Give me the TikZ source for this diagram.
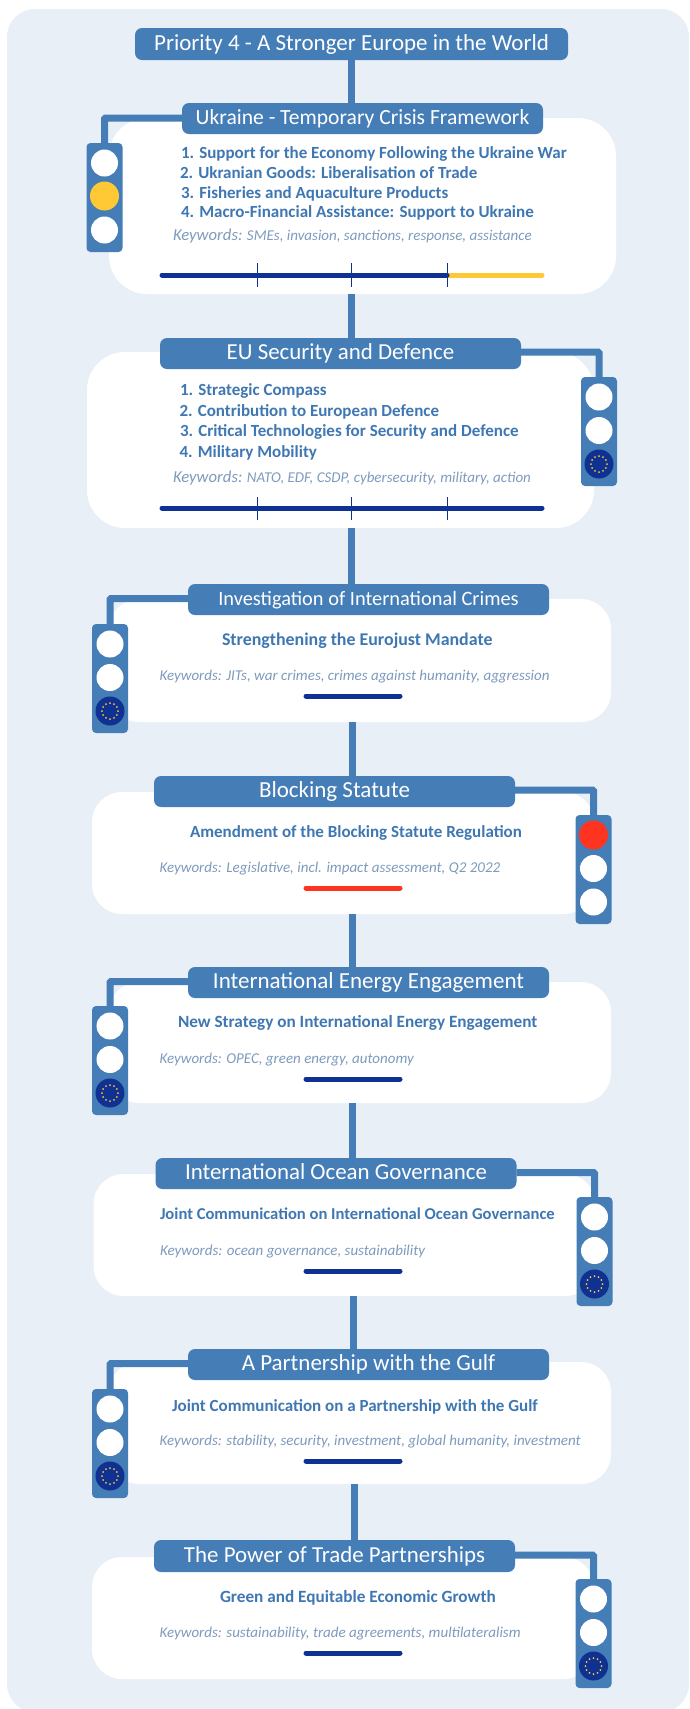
\documentclass[tikz,border=0pt]{standalone}
\usepackage{fontspec}
\setmainfont{Carlito}
\definecolor{panelblue}{HTML}{E8EFF7}
\definecolor{boxblue}{HTML}{457DB7}
\definecolor{navy}{HTML}{0F3191}
\definecolor{goldy}{HTML}{FFC835}
\definecolor{signalred}{HTML}{FF3420}
\definecolor{itemblue}{HTML}{3F77B3}
\definecolor{kwblue}{HTML}{7E9BBD}
\tikzset{
  every node/.style={inner sep=0pt, outer sep=0pt},
  cardbox/.style={fill=white, rounded corners=#1, anchor=north west},
  headbox/.style={fill=boxblue, rounded corners=7pt, text=white, anchor=north west,
     font=\fontsize{#1}{26}\selectfont, align=center, text height=16pt, text depth=4pt},
  lightbody/.style={fill=boxblue, rounded corners=4pt, minimum width=36pt, minimum height=109pt, anchor=north},
  lampoff/.style={circle, fill=white, minimum size=27pt},
  lampyellow/.style={circle, fill=goldy, minimum size=29pt},
  lampred/.style={circle, fill=signalred, minimum size=29pt},
  lampeu/.style={circle, fill=navy, minimum size=29pt},
  itemtext/.style={text=itemblue, anchor=base west, font=\fontsize{#1}{20}\selectfont\bfseries},
  itemtext/.default=17,
  kwtext/.style={text=kwblue, anchor=base west, font=\fontsize{15}{18}\selectfont\itshape},
  link/.style={draw=boxblue, line width=7pt},
  elbow/.style={draw=boxblue, line width=7pt, rounded corners=1pt},
  barline/.style={line width=5pt, line cap=round},
  tickline/.style={draw=navy, line width=1pt},
}
\newcommand{\tlight}[5]{% name, cx, top, first lamp, third lamp
  \node[lightbody] (#1) at (#2,#3) {};
  \node[#4] (#1a) at (#2,#3+20) {};
  \node[lampoff] (#1b) at (#2,#3+53.5) {};
  \node[#5] (#1c) at (#2,#3+87) {};
}
\newcommand{\eustars}[1]{\foreach \a in {0,30,...,330}{\fill[goldy] (#1.center) ++(\a:8) circle (1);}}
\newcommand{\bigkw}[1]{{\fontsize{16.7}{18}\selectfont #1}}
\begin{document}
\begin{tikzpicture}[x=1pt,y=-1pt]
\useasboundingbox (0,0) rectangle (689,1709);
\fill[white] (0,0) rectangle (689,1709);
\fill[panelblue, rounded corners=28pt] (7,9) rectangle (689,1712);

\coordinate (s1) at (351.5,0);
\coordinate (s2) at (352.5,0);
\coordinate (s3) at (353.5,0);
\coordinate (s4) at (354,0);

% cards
\node[cardbox=38pt, minimum width=507pt, minimum height=176pt] (cUkr) at (109,118) {};
\node[cardbox=38pt, minimum width=507pt, minimum height=176pt] (cEU) at (87,352) {};
\node[cardbox=30pt, minimum width=502pt, minimum height=123pt] (cInv) at (109,599) {};
\node[cardbox=30pt, minimum width=502pt, minimum height=122pt] (cBlo) at (92,792) {};
\node[cardbox=30pt, minimum width=502pt, minimum height=121pt] (cEne) at (109,982) {};
\node[cardbox=30pt, minimum width=502pt, minimum height=122pt] (cOce) at (93.5,1174) {};
\node[cardbox=30pt, minimum width=502pt, minimum height=122pt] (cGul) at (109,1362) {};
\node[cardbox=30pt, minimum width=502pt, minimum height=122pt] (cTra) at (92,1557) {};

% headers
\node[headbox=23, minimum width=433pt, minimum height=32pt] (title) at (135,28) {Priority 4 - A Stronger Europe in the World};
\node[headbox=21.6, minimum width=361pt, minimum height=31pt] (hUkr) at (182,103) {Ukraine - Temporary Crisis Framework};
\node[headbox=22.9, minimum width=361pt, minimum height=31pt] (hEU) at (160,338) {EU Security and Defence};
\node[headbox=20.4, minimum width=361pt, minimum height=31pt] (hInv) at (188,584) {Investigation of International Crimes};
\node[headbox=23, minimum width=361pt, minimum height=31pt] (hBlo) at (154,776) {Blocking Statute};
\node[headbox=23, minimum width=361pt, minimum height=31pt] (hEne) at (188,967) {International Energy Engagement};
\node[headbox=22.9, minimum width=361pt, minimum height=31pt] (hOce) at (155.5,1158) {International Ocean Governance};
\node[headbox=23, minimum width=361pt, minimum height=31pt] (hGul) at (188,1349) {A Partnership with the Gulf};
\node[headbox=22.9, minimum width=361pt, minimum height=32pt] (hTra) at (154,1540) {The Power of Trade Partnerships};

% traffic lights
\tlight{lUkr}{104.5}{143}{lampoff}{lampoff}
\node[lampyellow] (lUkrm) at (104.5,196) {};
\tlight{lEU}{599}{377}{lampoff}{lampeu}
\tlight{lInv}{110}{624}{lampoff}{lampeu}
\tlight{lBlo}{593.5}{815}{lampred}{lampoff}
\tlight{lEne}{110}{1006}{lampoff}{lampeu}
\tlight{lOce}{594.5}{1197}{lampoff}{lampeu}
\tlight{lGul}{110}{1389}{lampoff}{lampeu}
\tlight{lTra}{593.5}{1579}{lampoff}{lampeu}
\eustars{lEUc}\eustars{lInvc}\eustars{lEnec}\eustars{lOcec}\eustars{lGulc}\eustars{lTrac}

% vertical links
\draw[link] (s1 |- title.south) -- (s1 |- hUkr.north);
\draw[link] (s1 |- cUkr.south) -- (s1 |- hEU.north);
\draw[link] (s1 |- cEU.south) -- (s1 |- hInv.north);
\draw[link] (s2 |- cInv.south) -- (s2 |- hBlo.north);
\draw[link] (s2 |- cBlo.south) -- (s2 |- hEne.north);
\draw[link] (s2 |- cEne.south) -- (s2 |- hOce.north);
\draw[link] (s3 |- cOce.south) -- (s3 |- hGul.north);
\draw[link] (s4 |- cGul.south) -- (s4 |- hTra.north);

% elbow links
\draw[elbow] ([yshift=0.5pt]hUkr.west) -| (lUkr.north);
\draw[elbow] ([yshift=1.5pt]hEU.east) -| (lEU.north);
\draw[elbow] ([yshift=1pt]hInv.west) -| (lInv.north);
\draw[elbow] ([yshift=1.5pt]hBlo.east) -| (lBlo.north);
\draw[elbow] ([yshift=1pt]hEne.west) -| (lEne.north);
\draw[elbow] ([yshift=1pt]hOce.east) -| (lOce.north);
\draw[elbow] ([yshift=1pt]hGul.west) -| (lGul.north);
\draw[elbow] ([yshift=1pt]hTra.east) -| (lTra.north);

% items
\node[itemtext] (u1) at (181,158) {1. Support for the Economy Following the Ukraine War};
\node[itemtext] (u2) at (180,178) {2. Ukranian Goods: Liberalisation of Trade};
\node[itemtext] (u3) at (181,198) {3. Fisheries and Aquaculture Products};
\node[itemtext] (u4) at (181,217.5) {4. Macro-Financial Assistance: Support to Ukraine};
\node[kwtext] (uk) at (173,240) {\bigkw{Keywords:} SMEs, invasion, sanctions, response, assistance};

\node[itemtext] (e1) at (180,395) {1. Strategic Compass};
\node[itemtext] (e2) at (179.5,416) {2. Contribution to European Defence};
\node[itemtext] (e3) at (180,436.5) {3. Critical Technologies for Security and Defence};
\node[itemtext] (e4) at (179.5,457) {4. Military Mobility};
\node[kwtext] (ek) at (173,482) {\bigkw{Keywords:} NATO, EDF, CSDP, cybersecurity, military, action};

\node[itemtext=17.9] (i1) at (222,645) {Strengthening the Eurojust Mandate};
\node[kwtext] (ik) at (159.5,680.5) {Keywords: JITs, war crimes, crimes against humanity, aggression};

\node[itemtext] (b1) at (190,837) {Amendment of the Blocking Statute Regulation};
\node[kwtext] (bk) at (159.5,872) {Keywords: Legislative, incl. impact assessment, Q2 2022};

\node[itemtext=17.2] (n1) at (178,1027) {New Strategy on International Energy Engagement};
\node[kwtext] (nk) at (159.5,1063) {Keywords: OPEC, green energy, autonomy};

\node[itemtext=16.6] (o1) at (160,1219) {Joint Communication on International Ocean Governance};
\node[kwtext] (ok) at (160,1255) {Keywords: ocean governance, sustainability};

\node[itemtext] (g1) at (172,1411) {Joint Communication on a Partnership with the Gulf};
\node[kwtext] (gk) at (159.5,1445) {Keywords: stability, security, investment, global humanity, investment};

\node[itemtext=17.2] (t1) at (220,1602) {Green and Equitable Economic Growth};
\node[kwtext] (tk) at (159.5,1637) {Keywords: sustainability, trade agreements, multilateralism};

% timelines
\draw[barline, draw=goldy] (447,275) -- (542,275);
\draw[barline, draw=navy] (162,275) -- (447,275);
\draw[tickline] (257,263) -- (257,287) (351.5,263) -- (351.5,287) (447,263) -- (447,287);
\draw[barline, draw=navy] (162,508) -- (542,508);
\draw[tickline] (257,497) -- (257,520) (351.5,497) -- (351.5,520) (447,497) -- (447,520);
\draw[barline, draw=navy] (306,696) -- (400,696);
\draw[barline, draw=signalred] (306,888) -- (400,888);
\draw[barline, draw=navy] (306,1079) -- (400,1079);
\draw[barline, draw=navy] (306,1271) -- (400,1271);
\draw[barline, draw=navy] (306,1461) -- (400,1461);
\draw[barline, draw=navy] (306,1653) -- (400,1653);
\end{tikzpicture}
\end{document}
